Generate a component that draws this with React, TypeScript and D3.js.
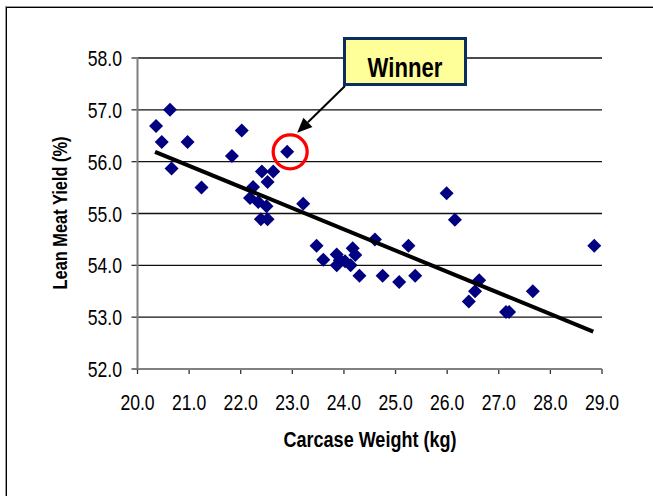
import React from "react";
import * as d3 from "d3";

const carcaseWeight = [
  20.36, 20.63, 20.47, 20.66, 20.97, 21.24, 21.83, 22.02, 22.9, 22.41, 22.63,
  22.52, 22.24, 22.18, 22.34, 22.5, 22.39, 22.52, 23.21, 23.47, 23.6, 23.86,
  23.92, 23.86, 24.17, 24.22, 24.13, 24.3, 24.6, 24.75, 25.07, 25.25, 25.38,
  25.99, 26.15, 26.42, 26.54, 26.62, 27.14, 27.2, 27.66, 28.85, 24.02,
];
const leanMeatYield = [
  56.69, 57.0, 56.38, 55.87, 56.38, 55.5, 56.11, 56.6, 56.19, 55.81, 55.81,
  55.61, 55.51, 55.3, 55.22, 55.14, 54.89, 54.89, 55.19, 54.38, 54.11, 54.21,
  54.1, 54.0, 54.33, 54.2, 54.0, 53.8, 54.5, 53.8, 53.68, 54.38, 53.8, 55.39,
  54.88, 53.3, 53.5, 53.71, 53.1, 53.1, 53.5, 54.38, 54.08,
];
const winnerIndex = 8;
const trendX = [20.34, 28.83];
const trendY = [56.19, 52.72];
const xTicks = [20, 21, 22, 23, 24, 25, 26, 27, 28, 29];
const yTicks = [52, 53, 54, 55, 56, 57, 58];

const W = 653;
const H = 496;
const font = "'Liberation Sans', Arial, sans-serif";

function NText({
  x,
  y,
  children,
  size,
  anchor = "middle",
  bold = false,
  rotate = 0,
  sx = 0.82,
}: {
  x: number;
  y: number;
  children: React.ReactNode;
  size: number;
  anchor?: string;
  bold?: boolean;
  rotate?: number;
  sx?: number;
}) {
  return (
    <g transform={`translate(${x},${y}) rotate(${rotate}) scale(${sx},1)`}>
      <text
        x={0}
        y={0}
        textAnchor={anchor as any}
        fontFamily={font}
        fontWeight={bold ? "bold" : "normal"}
        fontSize={size}
        fill="#000"
      >
        {children}
      </text>
    </g>
  );
}

export default function App() {
  const x = d3.scaleLinear().domain([20, 29]).range([137.5, 602]);
  const y = d3.scaleLinear().domain([52, 58]).range([369, 58]);
  const diamond = d3.symbol().type(d3.symbolDiamond2).size(125)();
  const trend = d3
    .line<number>()
    .x((d, i) => x(trendX[i]))
    .y((d, i) => y(trendY[i]))(trendX);

  const wx = x(carcaseWeight[winnerIndex]) + 3;
  const wy = y(leanMeatYield[winnerIndex]);
  const box = { x: 343, y: 37, w: 124, h: 49 };
  const tipX = wx + 7;
  const tipY = wy - 19;
  const startX = box.x + 2;
  const startY = box.y + box.h;
  const ang = Math.atan2(tipY - startY, tipX - startX);
  const ah = 15;
  const aw = 6.5;
  const bx = tipX - ah * Math.cos(ang);
  const by = tipY - ah * Math.sin(ang);
  const head = [
    [tipX, tipY],
    [bx + aw * Math.sin(ang), by - aw * Math.cos(ang)],
    [bx - aw * Math.sin(ang), by + aw * Math.cos(ang)],
  ]
    .map((p) => p.join(","))
    .join(" ");

  return (
    <svg
      width={W}
      height={H}
      style={{ position: "absolute", left: 0, top: 0, background: "#fff" }}
    >
      <rect x={6.5} y={7.5} width={700} height={520} fill="#fff" stroke="#000" strokeWidth={1} />
      <line x1={6} x2={653} y1={6.5} y2={6.5} stroke="#999" />
      <line x1={5.5} x2={5.5} y1={6} y2={496} stroke="#999" />
      {yTicks.slice(1).map((t) => (
        <line key={t} x1={x(20)} x2={x(29)} y1={y(t)} y2={y(t)} stroke="#111" strokeWidth={1.3} />
      ))}
      {yTicks.map((t) => (
        <line key={"yt" + t} x1={x(20) - 6} x2={x(20)} y1={y(t)} y2={y(t)} stroke="#333" strokeWidth={1.3} />
      ))}
      {xTicks.map((t) => (
        <line key={"xt" + t} x1={x(t)} x2={x(t)} y1={y(52)} y2={y(52) + 5} stroke="#333" strokeWidth={1.3} />
      ))}
      <line x1={x(20)} x2={x(20)} y1={y(58)} y2={y(52)} stroke="#808080" strokeWidth={2} />
      <line x1={x(20)} x2={x(29)} y1={y(52)} y2={y(52)} stroke="#808080" strokeWidth={2} />
      {yTicks.map((t) => (
        <NText key={"yl" + t} x={122} y={y(t) + 8} size={22} anchor="end" sx={0.8}>
          {t.toFixed(1)}
        </NText>
      ))}
      {xTicks.map((t) => (
        <NText key={"xl" + t} x={x(t)} y={410} size={22} sx={0.8}>
          {t.toFixed(1)}
        </NText>
      ))}
      <NText x={370} y={447} size={22} bold>
        Carcase Weight (kg)
      </NText>
      <NText x={67} y={213} size={20} bold rotate={-90}>
        Lean Meat Yield (%)
      </NText>
      {carcaseWeight.map((cw, i) => (
        <path key={i} d={diamond} transform={`translate(${x(cw)},${y(leanMeatYield[i])})`} fill="#000080" />
      ))}
      <path d={trend || ""} stroke="#000" strokeWidth={4} fill="none" />
      <circle cx={wx} cy={wy} r={17} fill="none" stroke="#ff0000" strokeWidth={3.3} />
      <line x1={startX} y1={startY} x2={bx} y2={by} stroke="#000" strokeWidth={2} />
      <polygon points={head} fill="#000" />
      <rect x={box.x + 1.5} y={box.y + 1.5} width={box.w - 3} height={box.h - 3} fill="#ffff99" stroke="#0a2f5c" strokeWidth={3} />
      <NText x={box.x + box.w / 2} y={box.y + 40} size={27} bold>
        Winner
      </NText>
    </svg>
  );
}
